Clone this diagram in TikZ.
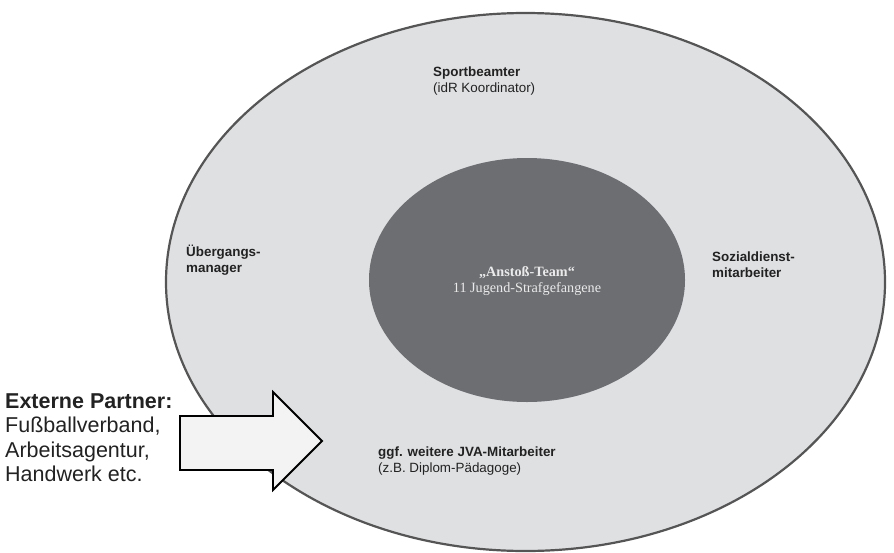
\documentclass[tikz,border=0pt]{standalone}
\usepackage{fontspec}
\setmainfont{Liberation Serif}
\setsansfont{Liberation Sans}
\usetikzlibrary{shapes.geometric}
\definecolor{outerfill}{HTML}{DFE0E2}
\definecolor{outerline}{HTML}{555555}
\definecolor{innerfill}{HTML}{6D6E72}
\definecolor{innertext}{HTML}{EAEAEA}
\definecolor{labeltext}{HTML}{222222}
\definecolor{arrowfill}{HTML}{F3F3F3}
\tikzset{
  lbl/.style={anchor=west, align=left, inner sep=0pt, text=labeltext,
    font=\sffamily\fontsize{13.4}{15.8}\selectfont},
  biglbl/.style={anchor=north west, align=left, inner sep=0pt, text=labeltext,
    font=\sffamily\fontsize{21.5}{24.5}\selectfont},
}
\begin{document}
\begin{tikzpicture}[x=1pt,y=-1pt]
\useasboundingbox (0,0) rectangle (894,552);
\node[ellipse, draw=outerline, line width=2.2pt, fill=outerfill, inner sep=0pt,
  minimum width=719pt, minimum height=538pt] (outer) at (525.5,282) {};
\node[ellipse, fill=innerfill, inner sep=0pt,
  minimum width=316pt, minimum height=244pt] (inner) at (527,280) {};
\node[align=center, text=innertext, inner sep=0pt,
  font=\fontsize{14.2}{16.5}\selectfont] (team) at (527,281)
  {\textbf{„Anstoß-Team“}\\11 Jugend-Strafgefangene};
\node[lbl] (sport) at (433,81) {\textbf{Sportbeamter}\\(idR Koordinator)};
\node[lbl] (ueber) at (186,260) {\textbf{Übergangs-}\\\textbf{manager}};
\node[lbl] (sozial) at (712,265) {\textbf{Sozialdienst-}\\\textbf{mitarbeiter}};
\node[lbl] (jva) at (378,461) {\textbf{ggf. weitere JVA-Mitarbeiter}\\(z.B. Diplom-Pädagoge)};
\node[biglbl] (ext) at (5,393) {\textbf{Externe Partner:}\\Fußballverband,\\Arbeitsagentur,\\Handwerk etc.};
\draw[line width=1.8pt, fill=arrowfill, line join=miter]
  (180,416) -- (273,416) -- (273,392) -- (322,441) -- (273,490) -- (273,470) -- (180,470) -- cycle;
\end{tikzpicture}
\end{document}
